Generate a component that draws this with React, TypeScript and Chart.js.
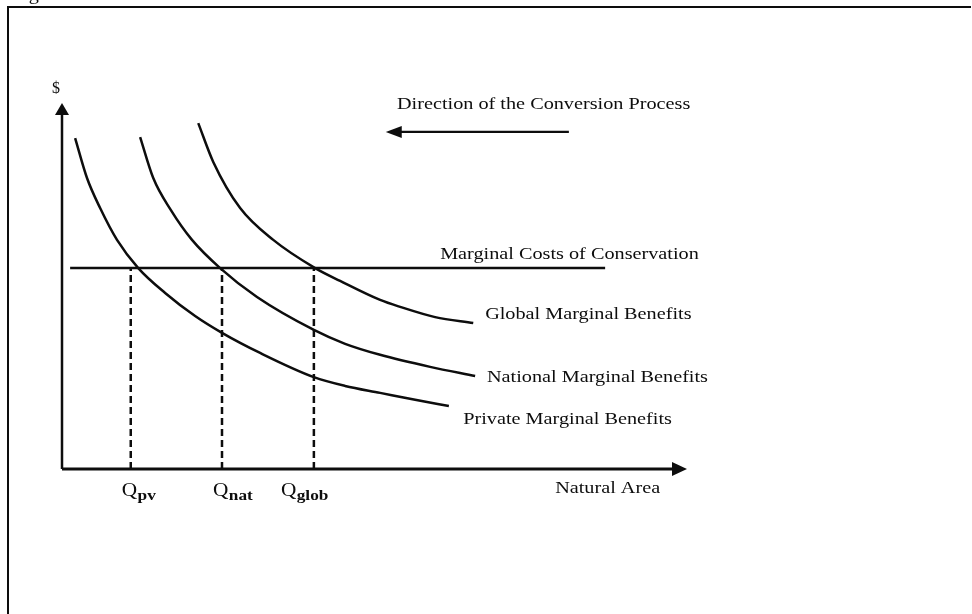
import React, { useEffect, useRef } from "react";
import { Chart, registerables } from "chart.js";

Chart.register(...registerables);

// Quantity of natural area (x) and marginal benefit in $ (y)
const privateQ = [0.21, 0.4, 0.61, 0.88, 1.22, 1.65, 2.13, 2.56, 3.17, 4.03, 4.53, 5.09, 5.65, 6.19];
const privateMB = [9.04, 7.95, 7.13, 6.26, 5.49, 4.81, 4.18, 3.72, 3.17, 2.51, 2.27, 2.08, 1.89, 1.72];
const nationalQ = [1.25, 1.46, 1.74, 2.08, 2.53, 3.12, 4.03, 4.53, 5.09, 5.89, 6.61];
const nationalMB = [9.07, 7.95, 7.08, 6.26, 5.49, 4.7, 3.8, 3.42, 3.12, 2.79, 2.54];
const globalQ = [2.18, 2.42, 2.85, 3.38, 4.05, 4.45, 5.09, 5.41, 5.97, 6.58];
const globalMB = [9.45, 8.39, 7.13, 6.26, 5.49, 5.14, 4.62, 4.43, 4.15, 3.99];
const mcQ = [0.13, 8.69];
const mcLevel = 5.49;
const qStar = [1.1, 2.56, 4.03];
const qSubscripts = ["pv", "nat", "glob"];
const curveLabels = [
  "Marginal Costs of Conservation",
  "Global Marginal Benefits",
  "National Marginal Benefits",
  "Private Marginal Benefits",
];
const xAxisTitle = "Natural Area";
const yAxisTitle = "$";
const directionText = "Direction of the Conversion Process";
const figureTitle = "Figure 1";

const INK = "#0d0d0d";
const SERIF = '"Liberation Serif", "Times New Roman", serif';

const toPoints = (xs: number[], ys: number[]) => xs.map((v, i) => ({ x: v, y: ys[i] }));

function wideText(ctx: CanvasRenderingContext2D, text: string, x: number, y: number, sx: number) {
  ctx.save();
  ctx.translate(x, y);
  ctx.scale(sx, 1);
  ctx.fillText(text, 0, 0);
  ctx.restore();
}

const overlayPlugin = {
  id: "overlay",
  afterDatasetsDraw(chart: any) {
    const { ctx } = chart;
    const xs = chart.scales.x;
    const ys = chart.scales.y;
    const px = (v: number) => xs.getPixelForValue(v);
    const py = (v: number) => ys.getPixelForValue(v);
    ctx.save();
    ctx.strokeStyle = INK;
    ctx.fillStyle = INK;
    ctx.lineCap = "butt";

    // page frame
    ctx.lineWidth = 2;
    ctx.beginPath();
    ctx.moveTo(8, 614);
    ctx.lineTo(8, 7);
    ctx.lineTo(971, 7);
    ctx.stroke();

    // clipped figure caption at top
    ctx.font = `17px ${SERIF}`;
    ctx.textAlign = "left";
    ctx.textBaseline = "alphabetic";
    wideText(ctx, figureTitle, 12, 0, 1.19);

    const ox = px(0);
    const oy = py(0);
    const yTop = py(ys.max);
    const xEnd = px(xs.max);

    // y axis with arrow
    ctx.lineWidth = 2.5;
    ctx.beginPath();
    ctx.moveTo(ox, oy);
    ctx.lineTo(ox, yTop + 10);
    ctx.stroke();
    ctx.beginPath();
    ctx.moveTo(ox, yTop);
    ctx.lineTo(ox - 7, yTop + 12);
    ctx.lineTo(ox + 7, yTop + 12);
    ctx.closePath();
    ctx.fill();

    // x axis with arrow
    ctx.lineWidth = 3;
    ctx.beginPath();
    ctx.moveTo(ox, oy);
    ctx.lineTo(xEnd - 12, oy);
    ctx.stroke();
    ctx.beginPath();
    ctx.moveTo(xEnd, oy);
    ctx.lineTo(xEnd - 15, oy - 7);
    ctx.lineTo(xEnd - 15, oy + 7);
    ctx.closePath();
    ctx.fill();

    // direction arrow
    const dy = py(9.21);
    const dx0 = px(8.11);
    const dx1 = px(5.18);
    ctx.lineWidth = 2.2;
    ctx.beginPath();
    ctx.moveTo(dx0, dy);
    ctx.lineTo(dx1 + 12, dy);
    ctx.stroke();
    ctx.beginPath();
    ctx.moveTo(dx1, dy);
    ctx.lineTo(dx1 + 16, dy - 6);
    ctx.lineTo(dx1 + 16, dy + 6);
    ctx.closePath();
    ctx.fill();

    // texts
    const SX = 1.19;
    ctx.textBaseline = "middle";
    ctx.font = `17px ${SERIF}`;
    wideText(ctx, directionText, px(5.36), py(9.95), SX);
    wideText(ctx, curveLabels[0], px(6.05), py(5.85), SX);
    wideText(ctx, curveLabels[1], px(6.77), py(4.23), SX);
    wideText(ctx, curveLabels[2], px(6.8), py(2.51), SX);
    wideText(ctx, curveLabels[3], px(6.42), py(1.34), SX);
    wideText(ctx, xAxisTitle, px(7.89), py(-0.52), SX);

    ctx.font = `16px ${SERIF}`;
    ctx.textAlign = "center";
    ctx.fillText(yAxisTitle, ox - 6, yTop - 14);

    // Q labels
    const offsets = [-9, -9, -33];
    ctx.textAlign = "left";
    ctx.textBaseline = "alphabetic";
    qStar.forEach((q, i) => {
      const left = px(q) + offsets[i];
      ctx.font = `19px ${SERIF}`;
      wideText(ctx, "Q", left, oy + 27, 1.12);
      const w = ctx.measureText("Q").width * 1.12;
      ctx.font = `bold 15px ${SERIF}`;
      wideText(ctx, qSubscripts[i], left + w + 0.5, oy + 31, 1.15);
    });

    ctx.restore();
  },
};

export default function App() {
  const ref = useRef<HTMLCanvasElement | null>(null);

  useEffect(() => {
    if (!ref.current) return;
    const curve = (data: { x: number; y: number }[]) => ({
      data,
      borderColor: INK,
      borderWidth: 2.5,
      pointRadius: 0,
      showLine: true,
      fill: false,
      cubicInterpolationMode: "monotone" as const,
      clip: false as const,
    });
    const dashed = qStar.map((q) => ({
      data: [
        { x: q, y: 0 },
        { x: q, y: mcLevel },
      ],
      borderColor: INK,
      borderWidth: 2.5,
      borderDash: [7, 4],
      pointRadius: 0,
      showLine: true,
      fill: false,
      clip: false as const,
    }));
    const chart = new Chart(ref.current, {
      type: "scatter",
      data: {
        datasets: [
          curve(toPoints(privateQ, privateMB)),
          curve(toPoints(nationalQ, nationalMB)),
          curve(toPoints(globalQ, globalMB)),
          {
            data: mcQ.map((q) => ({ x: q, y: mcLevel })),
            borderColor: INK,
            borderWidth: 2.5,
            pointRadius: 0,
            showLine: true,
            fill: false,
            clip: false,
          },
          ...dashed,
        ],
      },
      options: {
        responsive: false,
        maintainAspectRatio: false,
        devicePixelRatio: 1,
        animation: false,
        events: [],
        layout: { padding: { left: 62, right: 285, top: 103, bottom: 145 } },
        plugins: { legend: { display: false }, tooltip: { enabled: false } },
        scales: {
          x: { type: "linear", min: 0, max: 10, display: false },
          y: { type: "linear", min: 0, max: 10, display: false },
        },
      },
      plugins: [overlayPlugin],
    });
    return () => chart.destroy();
  }, []);

  return (
    <div style={{ position: "fixed", left: 0, top: 0, width: 972, height: 614, background: "#fff" }}>
      <canvas ref={ref} width={972} height={614} style={{ display: "block", width: 972, height: 614 }} />
    </div>
  );
}
